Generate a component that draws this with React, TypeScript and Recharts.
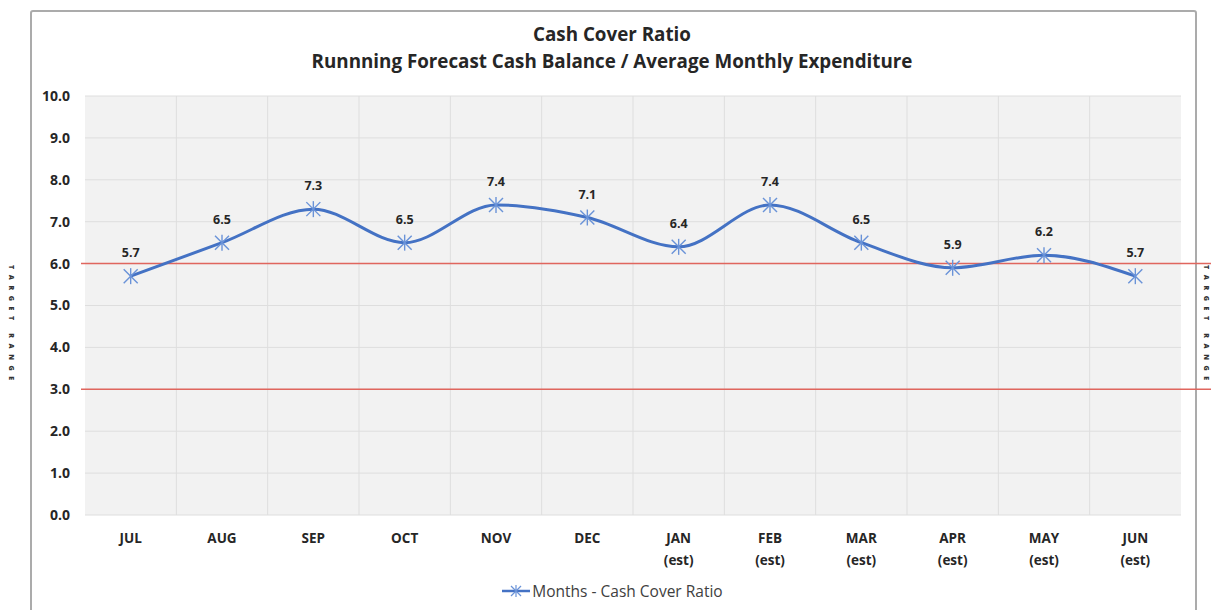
import React from 'react';
import {
    LineChart,
    Line,
    XAxis,
    YAxis,
    CartesianGrid,
    ReferenceLine,
    LabelList,
    Legend,
} from 'recharts';

const months = ['JUL', 'AUG', 'SEP', 'OCT', 'NOV', 'DEC', 'JAN\n(est)', 'FEB\n(est)', 'MAR\n(est)', 'APR\n(est)', 'MAY\n(est)', 'JUN\n(est)'];
const cashCover = [5.7, 6.5, 7.3, 6.5, 7.4, 7.1, 6.4, 7.4, 6.5, 5.9, 6.2, 5.7];
const targetRange = [6, 3];
const yTicks = [0, 1, 2, 3, 4, 5, 6, 7, 8, 9, 10];

const data = months.map((m, i) => ({ month: m, value: cashCover[i] }));

const FONT = '"Open Sans", Lato, sans-serif';
const BLUE = '#4472c4';
const MARKER = '#6a93d8';
const RED = '#e0665e';
const TEXT = '#262626';

function StarDot(props: any) {
    const { cx, cy } = props;
    if (cx == null || cy == null) return null;
    const r = 7;
    return (
        <g stroke={MARKER} strokeWidth={1.4}>
            <line x1={cx - r} y1={cy - r} x2={cx + r} y2={cy + r} />
            <line x1={cx - r} y1={cy + r} x2={cx + r} y2={cy - r} />
            <line x1={cx} y1={cy - r - 1} x2={cx} y2={cy + r + 1} />
        </g>
    );
}

function MonthTick(props: any) {
    const { x, y, payload } = props;
    const lines = String(payload.value).split('\n');
    return (
        <g>
            {lines.map((l, i) => (
                <text
                    key={i}
                    x={x}
                    y={y + 28 + i * 22}
                    textAnchor="middle"
                    fill={TEXT}
                    fontFamily={FONT}
                    fontWeight={700}
                    fontSize={13.5}
                >
                    {l}
                </text>
            ))}
        </g>
    );
}

function ExtendedLine(props: any) {
    const { x1, x2, y1, y2 } = props;
    return <line x1={x1 - 4} x2={x2 + 30} y1={y1} y2={y2} stroke={RED} strokeWidth={1.5} />;
}

function LegendContent() {
    return (
        <div style={{ display: 'flex', justifyContent: 'center', alignItems: 'center', paddingLeft: 43, fontFamily: FONT, fontSize: 15.5, color: '#404040' }}>
            <svg width={30} height={16} style={{ marginRight: 1 }}>
                <line x1={1} x2={29} y1={8} y2={8} stroke={BLUE} strokeWidth={2.5} />
                <g stroke={MARKER} strokeWidth={1.2}>
                    <line x1={10} y1={3} x2={20} y2={13} />
                    <line x1={10} y1={13} x2={20} y2={3} />
                    <line x1={15} y1={2} x2={15} y2={14} />
                </g>
            </svg>
            <span>Months - Cash Cover Ratio</span>
        </div>
    );
}

const sideText: React.CSSProperties = {
    position: 'absolute',
    writingMode: 'vertical-rl',
    fontFamily: FONT,
    fontSize: 7,
    fontWeight: 800,
    letterSpacing: 5.6,
    color: '#333',
    top: 265,
};

export default function App() {
    return (
        <div style={{ position: 'relative', width: 1211, height: 610, overflow: 'hidden', background: '#fff' }}>
            <style>{'body{margin:0}'}</style>
            <div
                style={{
                    position: 'absolute',
                    left: 30,
                    top: 10,
                    width: 1167,
                    height: 640,
                    border: '2.5px solid #ababab',
                    borderRadius: 3,
                    boxSizing: 'border-box',
                }}
            />
            <div style={{ ...sideText, left: 7 }}>TARGET RANGE</div>
            <div style={{ ...sideText, left: 1202 }}>TARGET RANGE</div>
            <div
                style={{
                    position: 'absolute',
                    top: 21,
                    left: 0,
                    width: 1224,
                    textAlign: 'center',
                    fontFamily: FONT,
                    fontWeight: 700,
                    fontSize: 18.8,
                    lineHeight: '27px',
                    color: TEXT,
                }}
            >
                <div>Cash Cover Ratio</div>
                <div>Runnning Forecast Cash Balance / Average Monthly Expenditure</div>
            </div>
            <div style={{ position: 'absolute', left: 0, top: 0 }}>
                <LineChart width={1211} height={610} data={data} margin={{ top: 96, right: 30, left: 0, bottom: 13 }}>
                    <CartesianGrid
                        fill="#f2f2f2"
                        stroke="#dedede"
                        strokeWidth={1}
                        verticalCoordinatesGenerator={({ offset }: any) =>
                            months.slice(1).map((_, i) => offset.left + ((i + 1) * offset.width) / months.length)
                        }
                    />
                    <XAxis
                        dataKey="month"
                        interval={0}
                        axisLine={false}
                        tickLine={false}
                        tickSize={0}
                        tickMargin={0}
                        height={60}
                        padding={{ left: 45.67, right: 45.67 }}
                        tick={<MonthTick />}
                    />
                    <YAxis
                        domain={[0, 10]}
                        ticks={yTicks}
                        width={85}
                        axisLine={false}
                        tickLine={false}
                        tickSize={0}
                        tickMargin={15}
                        tickFormatter={(v: number) => v.toFixed(1)}
                        tick={{ fill: TEXT, fontFamily: FONT, fontWeight: 700, fontSize: 14 }}
                    />
                    {targetRange.map((t) => (
                        <ReferenceLine key={t} y={t} stroke={RED} shape={<ExtendedLine />} ifOverflow="visible" />
                    ))}
                    <Line
                        type="monotone"
                        dataKey="value"
                        stroke={BLUE}
                        strokeWidth={3}
                        dot={<StarDot />}
                        activeDot={false}
                        isAnimationActive={false}
                    >
                        <LabelList
                            dataKey="value"
                            position="top"
                            offset={19}
                            formatter={(v: any) => Number(v).toFixed(1)}
                            style={{ fill: TEXT, fontFamily: FONT, fontWeight: 700, fontSize: 12.5 }}
                        />
                    </Line>
                    <Legend verticalAlign="bottom" content={<LegendContent />} wrapperStyle={{ bottom: 8 }} />
                </LineChart>
            </div>
        </div>
    );
}
